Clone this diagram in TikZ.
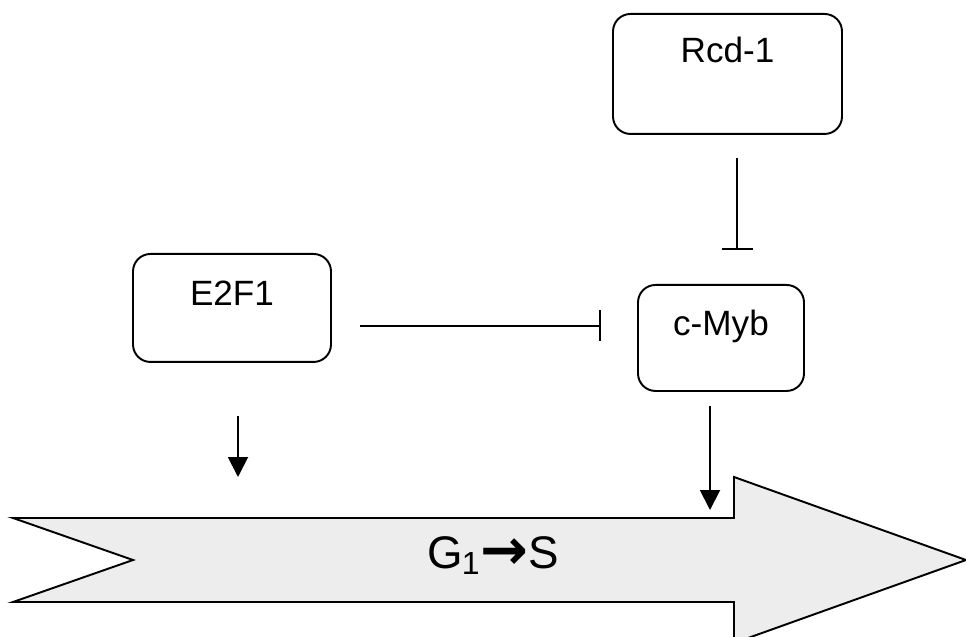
\documentclass[tikz,border=0pt]{standalone}
\usepackage{fontspec}
\setmainfont{Liberation Sans}
\newfontfamily\arrowfont{DejaVu Sans}
\usetikzlibrary{arrows.meta,positioning}

\begin{document}
\begin{tikzpicture}[
  box/.style={draw, line width=1.1pt, rounded corners=3.5mm, anchor=north, align=center,
    inner sep=0pt, font=\fontsize{20}{24}\selectfont},
  act/.style={-{Triangle[length=4mm,width=4mm]}, line width=1.1pt},
  inhibit/.style={-{Bar[width=6.2mm,line width=1.1pt]}, line width=1.1pt},
  phase/.style={draw, line width=1.1pt, fill=black!7}
]
\useasboundingbox (0,0) rectangle (19.32,-12.74);
% cell cycle phase arrow
\path[phase] (0.26,-10.36) -- (14.68,-10.36) -- (14.68,-9.54) -- (19.32,-11.2)
  -- (14.68,-12.86) -- (14.68,-12.04) -- (0.26,-12.04) -- (2.66,-11.2) -- cycle;
\node[font=\fontsize{26}{30}\selectfont, anchor=base] (g1s) at (9.86,-11.36)
  {G\kern-0.5pt\textsubscript{1}\raisebox{-0.6pt}{\scalebox{1.25}{\arrowfont\bfseries →}}S};

\node[box, minimum width=4.58cm, text height=0.98cm, text depth=1.42cm] (rcd) at (14.55,-0.26) {Rcd-1};
\node[box, minimum width=3.96cm, text height=1.04cm, text depth=1.12cm] (e2f1) at (4.64,-5.06) {E2F1};
\node[box, minimum width=3.32cm, text height=1.02cm, text depth=1.10cm] (cmyb) at (14.42,-5.68) {c-Myb};

\coordinate (e2f1 tip) at (4.76,-9.54);
\coordinate (cmyb tip) at (14.2,-10.2);

\draw[inhibit, shorten <=4.6mm, shorten >=6.8mm] (rcd.south -| 14.74,0) -- (cmyb.north -| 14.74,0);
\draw[inhibit, shorten <=5.6mm, shorten >=7.2mm] (e2f1.east |- 0,-6.52) -- (cmyb.west |- 0,-6.52);
\draw[act, shorten <=10.6mm] (e2f1.south -| e2f1 tip) -- (e2f1 tip);
\draw[act, shorten <=2.8mm] (cmyb.south -| cmyb tip) -- (cmyb tip);
\end{tikzpicture}
\end{document}
